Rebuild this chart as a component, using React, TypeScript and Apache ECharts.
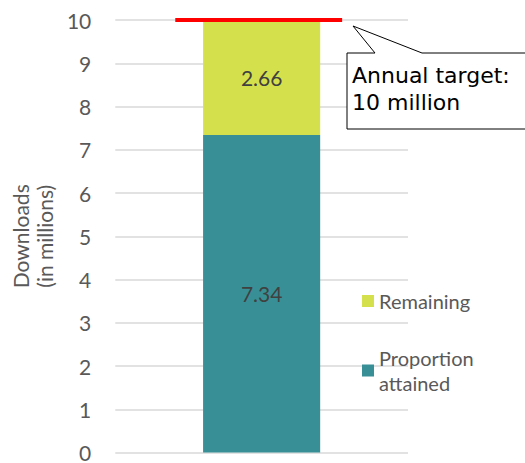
import React, { useEffect, useRef } from "react";
import * as echarts from "echarts";

const categories = [""];
const attained = [7.34];
const remaining = [2.66];
const targetValue = 10;
const yTicks = { min: 0, max: 10, interval: 1 };
const calloutLines = ["Annual target:", "10 million"];
const seriesNames = ["Remaining", "Proportion attained"];

export default function App() {
  const ref = useRef<HTMLDivElement>(null);
  useEffect(() => {
    if (!ref.current) return;
    const chart = echarts.init(ref.current, null, { renderer: "svg" });
    const font = "Lato, 'Noto Sans', sans-serif";
    chart.setOption({
      animation: false,
      grid: { left: 106, right: 117, top: 20, bottom: 7, containLabel: false },
      xAxis: [
        {
          type: "category",
          data: categories,
          axisLine: { show: false },
          axisTick: { show: false },
          axisLabel: { show: false },
        },
        { type: "value", min: 0, max: 1, show: false },
      ],
      yAxis: {
        type: "value",
        min: yTicks.min,
        max: yTicks.max,
        interval: yTicks.interval,
        axisLine: { show: false },
        axisTick: { show: false },
        axisLabel: { color: "#595959", fontSize: 21, fontFamily: font, margin: 24 },
        splitLine: { lineStyle: { color: "#d9d9d9", width: 1.5 } },
        name: "Downloads\n(in millions)",
        nameLocation: "middle",
        nameRotate: 90,
        nameGap: 55,
        nameTextStyle: { color: "#595959", fontSize: 21, fontFamily: font, lineHeight: 24 },
      },
      legend: [
        {
          data: [seriesNames[0]],
          left: 362,
          top: 291,
          padding: 0,
          icon: "rect",
          itemWidth: 12,
          itemHeight: 12,
          itemGap: 8,
          textStyle: { color: "#595959", fontSize: 20, fontFamily: font },
        },
        {
          data: [seriesNames[1]],
          left: 362,
          top: 333,
          padding: 0,
          icon: "rect",
          itemWidth: 12,
          itemHeight: 12,
          itemGap: 8,
          formatter: () => "Proportion\nattained",
          textStyle: {
            color: "#595959",
            fontSize: 20,
            fontFamily: font,
            lineHeight: 25,
            padding: [25, 0, 0, 0],
          },
        },
      ],
      series: [
        {
          name: seriesNames[1],
          type: "bar",
          stack: "total",
          data: attained,
          barWidth: "40%",
          itemStyle: { color: "#389096" },
          label: {
            show: true,
            position: "inside",
            color: "#404040",
            fontSize: 21,
            fontFamily: font,
            formatter: (p: any) => p.value.toFixed(2),
          },
        },
        {
          name: seriesNames[0],
          type: "bar",
          stack: "total",
          data: remaining,
          barWidth: "40%",
          itemStyle: { color: "#d5e04d" },
          label: {
            show: true,
            position: "inside",
            color: "#404040",
            fontSize: 21,
            fontFamily: font,
            formatter: (p: any) => p.value.toFixed(2),
          },
        },
        {
          name: "target",
          type: "line",
          xAxisIndex: 1,
          data: [
            [0.205, targetValue],
            [0.775, targetValue],
          ],
          symbol: "none",
          lineStyle: { color: "#ff0000", width: 4 },
          z: 5,
        },
      ],
      graphic: [
        {
          type: "polygon",
          shape: {
            points: [
              [347, 53],
              [375, 53],
              [353, 26],
              [422, 53],
              [530, 53],
              [530, 129],
              [347, 129],
            ],
          },
          style: { fill: "#ffffff", stroke: "#000000", lineWidth: 1 },
          z: 10,
        },
        {
          type: "text",
          x: 352,
          y: 62,
          style: {
            text: calloutLines.join("\n"),
            fill: "#000000",
            fontSize: 22,
            fontFamily: "'DejaVu Sans', sans-serif",
            lineHeight: 27,
          },
          z: 11,
        },
      ],
    });
    return () => chart.dispose();
  }, []);
  return <div ref={ref} style={{ width: 525, height: 463, position: "absolute", left: 0, top: 0 }} />;
}
